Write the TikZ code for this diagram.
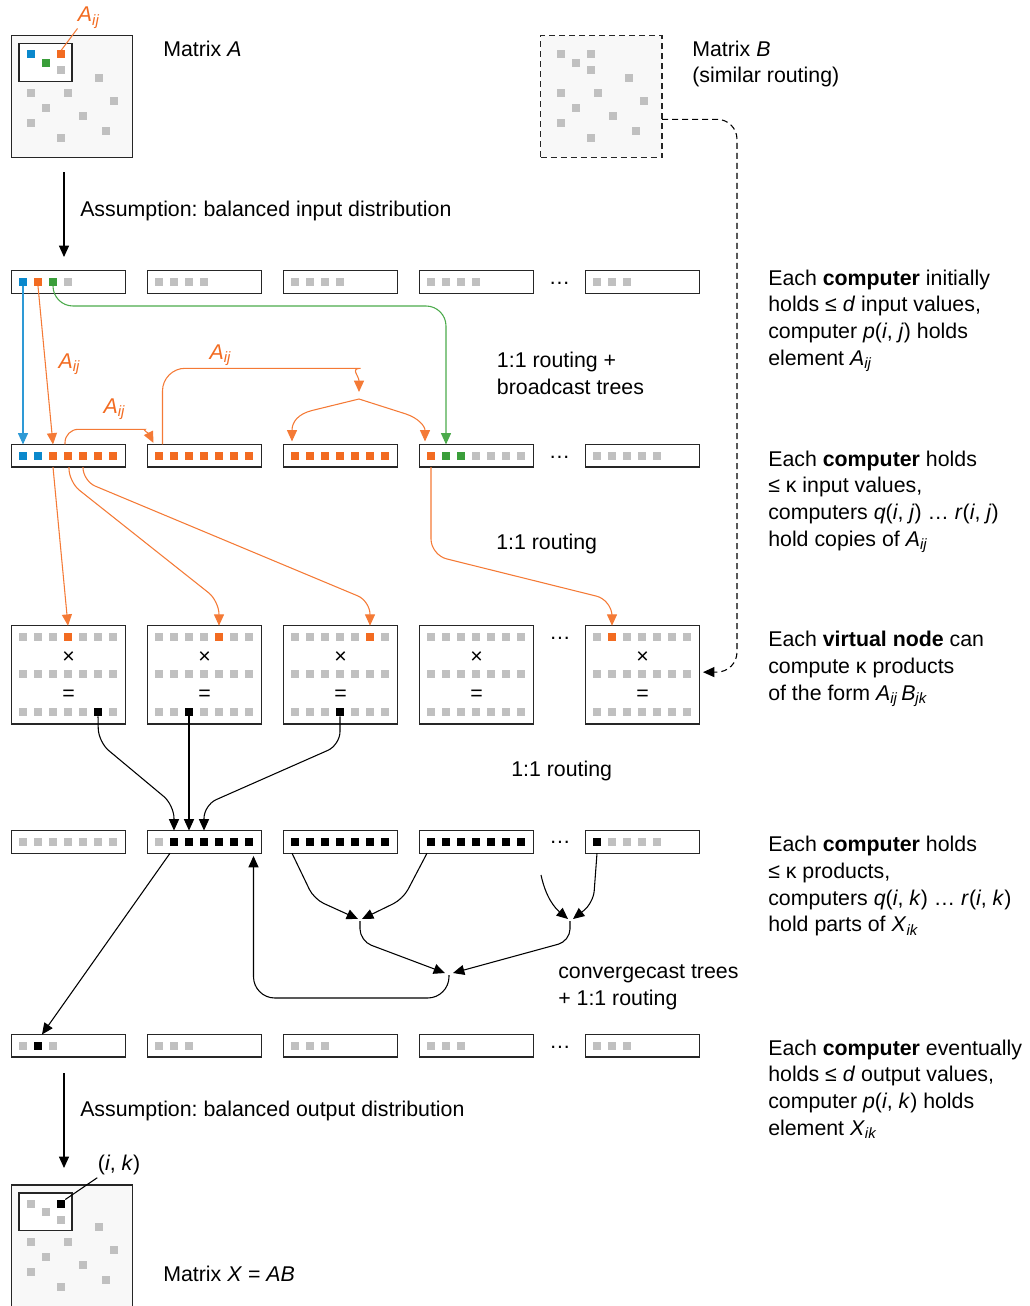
\documentclass[tikz,border=0pt]{standalone}
\usepackage{fontspec}
\setmainfont{Liberation Sans}
\usetikzlibrary{arrows.meta,calc}
\frenchspacing
\definecolor{cO}{HTML}{F26B21}
\definecolor{cOl}{HTML}{F47A36}
\definecolor{cB}{HTML}{0A88CC}
\definecolor{cBl}{HTML}{2E9AD6}
\definecolor{cG}{HTML}{3A9E3A}
\definecolor{cGl}{HTML}{4BAA4B}
\definecolor{cK}{HTML}{C0C0C0}
\definecolor{cLine}{HTML}{262626}
\definecolor{cMat}{HTML}{F8F8F8}
\newcommand\mysub[1]{\textsubscript{\itshape #1}}
% row box: name, left x, centre y, colours
\newcommand\rowb[4]{%
  \node[cbox] (#1) at (#2+57,#3) {};
  \foreach \cl [count=\k from 0] in {#4} {\node[sq,fill=\cl] (#1s\k) at (#2+11.5+15*\k,#3) {};}%
}
% virtual node: name, left x, top colours, bottom colours
\newcommand\virt[4]{%
  \node[vbx] (#1) at (#2+57,674.85) {};
  \foreach \cl [count=\k from 0] in {#3} {\node[sq,fill=\cl] (#1t\k) at (#2+11.5+15*\k,636.7) {};}%
  \foreach \k in {0,...,6} {\node[sq,fill=cK] (#1m\k) at (#2+11.5+15*\k,674.3) {};}%
  \foreach \cl [count=\k from 0] in {#4} {\node[sq,fill=\cl] (#1b\k) at (#2+11.5+15*\k,712.3) {};}%
  \node[txt] (#1x) at (#2+57,657.7) {×};
  \node[txt] (#1e) at (#2+57,695) {=};
}
% matrix pattern: name, x0, y0, c1, c2, c3
\newcommand\patt[6]{%
  \foreach \dx/\dy/\cl [count=\k] in {19.5/18.5/#4, 50/18.5/#5, 35/27/#6, 50/34.5/cK, 87.5/42/cK, 19.5/57/cK, 57/57/cK, 102.5/65/cK, 35/72/cK, 72/80/cK, 19.5/87/cK, 95/95/cK, 50/102/cK}
    {\node[sq,fill=\cl] (#1s\k) at (#2+\dx,#3+\dy) {};}%
}
\begin{document}
\begin{tikzpicture}[x=0.75pt,y=-0.75pt,
  cbox/.style={draw=cLine,line width=1pt,fill=white,minimum width=85.5pt,minimum height=17pt,inner sep=0pt,outer sep=0pt},
  vbx/.style={cbox,minimum height=73.7pt},
  sq/.style={draw=none,minimum size=6pt,inner sep=0pt,outer sep=0pt},
  mat/.style={draw=cLine,line width=1pt,fill=cMat,minimum width=91pt,minimum height=91.2pt,inner sep=0pt,outer sep=0pt},
  matdash/.style={dash pattern=on 4.5pt off 3pt},
  inbox/.style={draw=cLine,line width=1pt,fill=white,minimum width=39.75pt,minimum height=28.3pt,inner sep=0pt},
  txt/.style={font=\fontsize{16}{20}\selectfont,inner sep=0pt,align=left},
  conn/.style={line width=0.8pt,-{Triangle[length=8.5pt,width=7.5pt]}},
  karr/.style={conn,draw=black},
  oarr/.style={conn,draw=cOl},
  barr/.style={conn,draw=cBl},
  garr/.style={conn,draw=cGl},
  oline/.style={line width=0.8pt,draw=cOl},
  kline/.style={line width=0.8pt,draw=black}]
\useasboundingbox (0,0) rectangle (1029,1306);

% ---------- Matrix A ----------
\node[mat] (matA) at (72,96.5) {};
\node[inbox] (matAin) at (45.5,62.5) {};
\patt{matA}{11.3}{35.7}{cB}{cO}{cG}
\node[txt,anchor=base west] (tMA) at (163,56.7) {Matrix \textit{A}};
\coordinate (lAend) at (77.5,28.5);
\draw[oline] (matAs2.north) -- (lAend);
\node[txt,anchor=base west,text=cO] (lA0) at (77.7,21.7) {\textit{A}\mysub{ij}};

% ---------- Matrix B ----------
\node[mat,matdash] (matB) at (601.4,96.4) {};
\patt{matB}{541}{36}{cK}{cK}{cK}
\node[txt,anchor=north west] (tMB) at (692,37.3) {\strut Matrix \textit{B}\\(similar routing)};

% ---------- input arrow ----------
\coordinate (ia1) at (64,172);
\coordinate (ia2) at (64,257);
\draw[karr] (ia1) -- (ia2);
\node[txt,anchor=base west] (tAin) at (80,216) {Assumption: balanced input distribution};

% ---------- Row 1 ----------
\rowb{r1b1}{11.5}{282}{cB,cO,cG,cK}
\rowb{r1b2}{147.5}{282}{cK,cK,cK,cK}
\rowb{r1b3}{283.5}{282}{cK,cK,cK,cK}
\rowb{r1b4}{419.5}{282}{cK,cK,cK,cK}
\rowb{r1b5}{585.5}{282}{cK,cK,cK}
\node[txt,anchor=base] (d1) at (559.5,284.5) {…};

% ---------- Row 2 ----------
\rowb{r2b1}{11.5}{455.8}{cB,cB,cO,cO,cO,cO,cO}
\rowb{r2b2}{147.5}{455.8}{cO,cO,cO,cO,cO,cO,cO}
\rowb{r2b3}{283.5}{455.8}{cO,cO,cO,cO,cO,cO,cO}
\rowb{r2b4}{419.5}{455.8}{cO,cG,cG,cK,cK,cK,cK}
\rowb{r2b5}{585.5}{455.8}{cK,cK,cK,cK,cK}
\node[txt,anchor=base] (d2) at (559.5,458) {…};

% ---------- Row 3 (virtual nodes) ----------
\virt{v1}{11.5}{cK,cK,cK,cO,cK,cK,cK}{cK,cK,cK,cK,cK,black,cK}
\virt{v2}{147.5}{cK,cK,cK,cK,cO,cK,cK}{cK,cK,black,cK,cK,cK,cK}
\virt{v3}{283.5}{cK,cK,cK,cK,cK,cO,cK}{cK,cK,cK,black,cK,cK,cK}
\virt{v4}{419.5}{cK,cK,cK,cK,cK,cK,cK}{cK,cK,cK,cK,cK,cK,cK}
\virt{v5}{585.5}{cK,cO,cK,cK,cK,cK,cK}{cK,cK,cK,cK,cK,cK,cK}
\node[txt,anchor=base] (d3) at (560,639.5) {…};

% ---------- Row 4 ----------
\rowb{r4b1}{11.5}{841.9}{cK,cK,cK,cK,cK,cK,cK}
\rowb{r4b2}{147.5}{841.9}{cK,black,black,black,black,black,black}
\rowb{r4b3}{283.5}{841.9}{black,black,black,black,black,black,black}
\rowb{r4b4}{419.5}{841.9}{black,black,black,black,black,black,black}
\rowb{r4b5}{585.5}{841.9}{black,cK,cK,cK,cK}
\node[txt,anchor=base] (d4) at (560,843) {…};

% ---------- Row 5 ----------
\rowb{r5b1}{11.5}{1045.8}{cK,black,cK}
\rowb{r5b2}{147.5}{1045.8}{cK,cK,cK}
\rowb{r5b3}{283.5}{1045.8}{cK,cK,cK}
\rowb{r5b4}{419.5}{1045.8}{cK,cK,cK}
\rowb{r5b5}{585.5}{1045.8}{cK,cK,cK}
\node[txt,anchor=base] (d5) at (560,1048) {…};

% ---------- output arrow & Matrix X ----------
\coordinate (oa1) at (64,1073);
\coordinate (oa2) at (64,1168);
\draw[karr] (oa1) -- (oa2);
\node[txt,anchor=base west] (tAout) at (80,1116) {Assumption: balanced output distribution};
\node[mat] (matX) at (72,1245.8) {};
\node[inbox] (matXin) at (45.5,1211.7) {};
\patt{matX}{11.3}{1185}{cK}{black}{cK}
\coordinate (lXend) at (97.3,1177.7);
\draw[kline] (matXs2.north east) -- (lXend);
\node[txt,anchor=base west] (tik) at (97.7,1170) {(\textit{i}, \textit{k})};
\node[txt,anchor=base west] (tMX) at (163,1281.7) {Matrix \textit{X} = \textit{AB}};

% ---------- Row 1 -> Row 2 ----------
\draw[barr] (r1b1s0.south) -- (r1b1s0 |- r2b1.north);
\draw[oarr] (r1b1s1.south) -- (r2b1s2 |- r2b1.north);
\node[txt,anchor=base west,text=cO] (lA1) at (58.3,368) {\textit{A}\mysub{ij}};
\draw[garr,rounded corners=15pt] (r1b1s2.south) |- (r2b4s1 |- 0,306) -- (r2b4s1 |- r2b4.north);
\draw[oarr,rounded corners=10pt] ($(r2b1s3 |- r2b1.north)+(-3,0)$) |- (132,429.3)
   .. controls (142,429.3) and (149,434) .. ($(r2b2.north west)+(6,-1.5)$);
\node[txt,anchor=base west,text=cO] (lA2) at (103.3,413.3) {\textit{A}\mysub{ij}};
\coordinate (J1) at (359,399);
\draw[oarr,rounded corners=17pt] ($(r2b2s0 |- r2b2.north)+(3.5,0)$) |- (338,368.3)
   .. controls (350,368.3) and (359,376) .. ($(J1)+(0,-7)$);
\node[txt,anchor=base west,text=cO] (lA3) at (209.3,359.3) {\textit{A}\mysub{ij}};
\draw[oarr] (J1) -- (312,410.5) .. controls (298,414) and (292,422) .. ($(r2b3s0 |- r2b3.north)+(-3,-3)$);
\draw[oarr] (J1) -- (406,414) .. controls (418,418) and (425,426) .. ($(r2b4s0 |- r2b4.north)+(-6,-3)$);
\node[txt,anchor=north west] (tR1) at (496.7,348.6) {\strut 1:1 routing +\\broadcast trees};

% ---------- Row 2 -> Row 3 ----------
\draw[oarr] (r2b1s2 |- r2b1.south) -- (v1t3 |- v1.north);
\draw[oarr,rounded corners=10pt] ($(r2b1s3 |- r2b1.south)+(1,0)$) -- (69,482) -- (219,601) -- (v2t4 |- v2.north);
\draw[oarr,rounded corners=10pt] (r2b1s4 |- r2b1.south) -- (83,481) -- (370,601) -- (v3t5 |- v3.north);
\draw[oarr,rounded corners=12pt] (r2b4s0 |- r2b4.south) -- (431,555) -- (612,600) -- (v5t1 |- v5.north);
\node[txt,anchor=base west] (tR2) at (496,549) {1:1 routing};

% ---------- B routing ----------
\draw[karr,matdash,rounded corners=15pt] (matB.east |- 0,119.3) -- (737,119.3) -- (737,672) -- ($(v5.east)+(3.5,-2.7)$);

% ---------- Row 3 -> Row 4 ----------
\draw[karr,rounded corners=10pt] (v1b5.south) -- (98.5,742) -- (174,805) -- (r4b2s1 |- r4b2.north);
\draw[karr] (v2b2.south) -- (r4b2s2 |- r4b2.north);
\draw[karr,rounded corners=10pt] (v3b3.south) -- (340,745) -- (204,805) -- (r4b2s3 |- r4b2.north);
\node[txt,anchor=base west] (tR3) at (511,776) {1:1 routing};

% ---------- Row 4 -> Row 5 ----------
\draw[karr] ($(r4b2s1 |- r4b2.south)+(-4,0)$) -- ($(r5b1s1 |- r5b1.north)+(4,0)$);
\coordinate (J2) at (360,921);
\coordinate (J3) at (570,921);
\coordinate (J4) at (449,975);
\coordinate (st) at (541,875);
\draw[karr,rounded corners=8pt] ($(r4b3s0 |- r4b3.south)+(-3,0)$) -- (314,899) -- ($(J2)+(-2,-2)$);
\draw[karr,rounded corners=8pt] ($(r4b4s0 |- r4b4.south)+(-4,0)$) -- (403,899) -- ($(J2)+(2,-2)$);
\draw[karr,rounded corners=9pt] (J2) -- (360,941) -- ($(J4)+(-4,-2)$);
\draw[karr,rounded corners=9pt] (r4b5s0 |- r4b5.south) -- (593.3,903) -- ($(J3)+(3,-2)$);
\draw[karr] (st) .. controls (546,898) and (555,908) .. ($(J3)+(-2,-2)$);
\draw[karr,rounded corners=9pt] (J3) -- (570,941) -- ($(J4)+(4,-2)$);
\draw[karr,rounded corners=16pt] (J4) -- (449,998) -- (253.5,998) -- ($(r4b2.south west)+(106,2.7)$);
\node[txt,anchor=north west] (tR4) at (558,959.6) {\strut convergecast trees\\+ 1:1 routing};

% ---------- right column ----------
\node[txt,anchor=north west] (e1) at (768,266.3) {\strut Each \textbf{computer} initially\\holds ≤ \textit{d} input values,\\computer \textit{p}(\textit{i}, \textit{j}) holds\\element \textit{A}\mysub{ij}};
\node[txt,anchor=north west] (e2) at (768,447.3) {\strut Each \textbf{computer} holds\\≤ κ input values,\\computers \textit{q}(\textit{i}, \textit{j}) … \textit{r}(\textit{i}, \textit{j})\\hold copies of \textit{A}\mysub{ij}};
\node[txt,anchor=north west] (e3) at (768,628) {\strut Each \textbf{virtual node} can\\compute κ products\\of the form \textit{A}\mysub{ij}\,\textit{B}\mysub{jk}};
\node[txt,anchor=north west] (e4) at (768,833) {\strut Each \textbf{computer} holds\\≤ κ products,\\computers \textit{q}(\textit{i}, \textit{k}) … \textit{r}(\textit{i}, \textit{k})\\hold parts of \textit{X}\mysub{ik}};
\node[txt,anchor=north west] (e5) at (768,1036.3) {\strut Each \textbf{computer} eventually\\holds ≤ \textit{d} output values,\\computer \textit{p}(\textit{i}, \textit{k}) holds\\element \textit{X}\mysub{ik}};
\end{tikzpicture}
\end{document}
